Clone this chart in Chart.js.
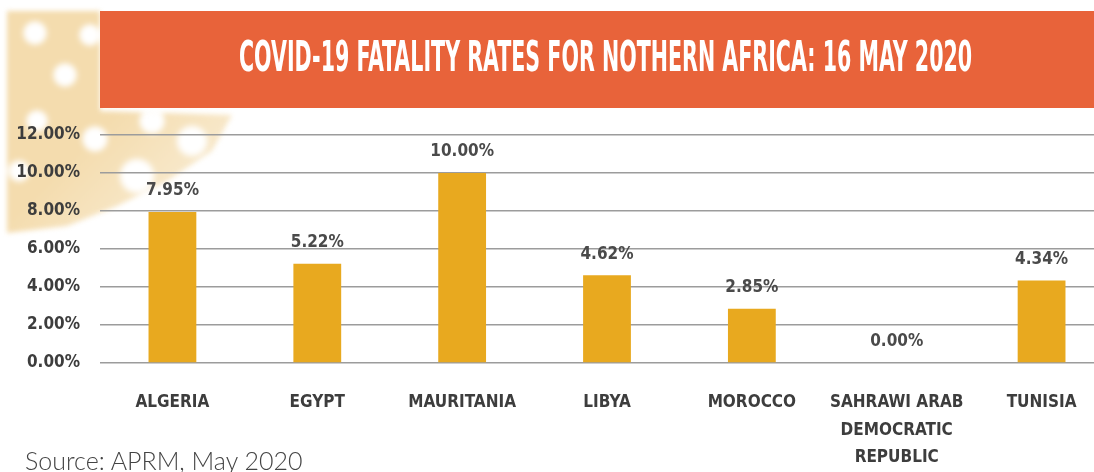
<!DOCTYPE html>
<html>
<head>
<meta charset="utf-8">
<script src="https://cdn.jsdelivr.net/npm/chart.js@4.4.1/dist/chart.umd.min.js"></script>
<style>
  html, body { margin: 0; padding: 0; background: #fff; overflow: hidden; }
  body { width: 1094px; height: 472px; position: relative; }
  #decoWrap { position: absolute; left: 7px; top: 11px; width: 240px; height: 230px; filter: blur(2.5px); }
  #deco {
    position: absolute; left: 0; top: 0; width: 240px; height: 230px;
    background:
      radial-gradient(circle at 28px 22px, #fff 0 9px, transparent 14px),
      radial-gradient(circle at 83px 24px, #fff 0 8px, transparent 13px),
      radial-gradient(circle at 58px 64px, #fff 0 9px, transparent 14px),
      radial-gradient(circle at 30px 110px, #fff 0 8px, transparent 13px),
      radial-gradient(circle at 88px 128px, #fff 0 10px, transparent 15px),
      radial-gradient(circle at 145px 110px, #fff 0 10px, transparent 15px),
      radial-gradient(circle at 185px 130px, #fff 0 12px, transparent 18px),
      radial-gradient(circle at 12px 160px, #fff 0 8px, transparent 13px),
      radial-gradient(circle at 130px 165px, #fff 0 14px, transparent 20px),
      linear-gradient(135deg, #f4dcae 0%, #f4dcae 45%, #f8e9cc 75%, #fff 100%);
    clip-path: polygon(0 0, 93px 0, 93px 100px, 225px 104px, 205px 140px, 160px 170px, 110px 195px, 60px 215px, 0 222px);
  }
  #banner {
    position: absolute; left: 100px; top: 11px; width: 994px; height: 97px;
    background: #e8633a;
  }
  #title {
    position: absolute; left: 239px; top: 36px; white-space: nowrap;
    font-family: "Liberation Sans Narrow", "DejaVu Sans Condensed", sans-serif;
    font-weight: bold; font-size: 42px; color: #fff; line-height: 42px;
    transform-origin: 0 0;
  }
  #source {
    position: absolute; left: 25px; top: 445px; white-space: nowrap;
    font-family: Lato, "Open Sans", sans-serif; font-weight: 300;
    font-size: 25px; color: #444;
  }
  #wrap { position: absolute; left: 0; top: 0; width: 1114px; height: 472px; }
</style>
</head>
<body>
<div id="decoWrap"><div id="deco"></div></div>
<div id="banner"></div>
<div id="title">COVID-19 FATALITY RATES FOR NOTHERN AFRICA: 16 MAY 2020</div>
<div id="wrap"><canvas id="chart"></canvas></div>
<div id="source">Source: APRM, May 2020</div>
<script>
var countries = ['ALGERIA', 'EGYPT', 'MAURITANIA', 'LIBYA', 'MOROCCO', ['SAHRAWI ARAB', 'DEMOCRATIC', 'REPUBLIC'], 'TUNISIA'];
var fatalityRates = [7.95, 5.22, 10.00, 4.62, 2.85, 0.00, 4.34];
var yTicks = [0, 2, 4, 6, 8, 10, 12];

var labelFont = '"Liberation Sans Narrow", "DejaVu Sans Condensed", sans-serif';

// squeeze the title into the banner width
var t = document.getElementById('title');
t.style.transform = 'scaleX(' + (733 / t.offsetWidth) + ')';

var valueLabels = {
    id: 'valueLabels',
    afterDatasetsDraw: function(chart) {
        var ctx = chart.ctx;
        var meta = chart.getDatasetMeta(0);
        ctx.save();
        ctx.font = 'bold 17px ' + labelFont;
        ctx.fillStyle = '#4a4a4a';
        ctx.textAlign = 'center';
        ctx.textBaseline = 'middle';
        meta.data.forEach(function(bar, i) {
            ctx.fillText(fatalityRates[i].toFixed(2) + '%', bar.x, bar.y - 21);
        });
        ctx.restore();
    }
};

new Chart(document.getElementById('chart'), {
    type: 'bar',
    data: {
        labels: countries,
        datasets: [{
            data: fatalityRates,
            backgroundColor: '#e8a91f',
            borderWidth: 0,
            barPercentage: 0.33,
            categoryPercentage: 1
        }]
    },
    options: {
        responsive: true,
        maintainAspectRatio: false,
        animation: false,
        layout: { padding: { top: 135, right: 0, bottom: 0, left: 0 } },
        plugins: {
            legend: { display: false },
            tooltip: { enabled: false }
        },
        scales: {
            x: {
                grid: { display: false, drawTicks: false },
                border: { display: false },
                ticks: {
                    color: '#3d3d3d',
                    padding: 26,
                    maxRotation: 0,
                    autoSkip: false,
                    font: { family: labelFont, weight: 'bold', size: 17, lineHeight: 1.62 }
                },
                afterFit: function(s) { s.height = 109; }
            },
            y: {
                min: 0,
                max: 12,
                afterBuildTicks: function(s) { s.ticks = yTicks.map(function(v) { return { value: v }; }); },
                grid: { color: '#9c9c9c', lineWidth: 1.5, drawTicks: false },
                border: { display: false },
                ticks: {
                    color: '#3d3d3d',
                    padding: 20,
                    font: { family: labelFont, weight: 'bold', size: 17 },
                    callback: function(v) { return v.toFixed(2) + '%'; }
                },
                afterFit: function(s) { s.width = 100; }
            }
        }
    },
    plugins: [valueLabels]
});
</script>
</body>
</html>
